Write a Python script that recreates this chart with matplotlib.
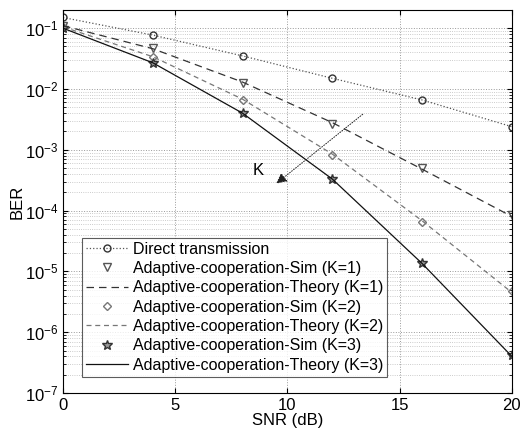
import matplotlib
matplotlib.use('Agg')
import matplotlib.pyplot as plt
import numpy as np

plt.rcParams['font.family'] = ['Liberation Sans', 'DejaVu Sans']
plt.rcParams['mathtext.default'] = 'regular'

# SNR points
snr = [0, 4, 8, 12, 16, 20]

# BER values
ber_direct = [0.15, 0.077, 0.035, 0.015, 0.0066, 0.0024]
ber_sim_k1 = [0.11, 0.047, 0.0126, 0.0027, 5.0e-4, 8.5e-5]
ber_th_k1 = [0.11, 0.046, 0.013, 0.0028, 4.8e-4, 8.0e-5]
ber_sim_k2 = [0.105, 0.033, 0.0066, 8.3e-4, 6.6e-5, 4.7e-6]
ber_th_k2 = [0.105, 0.034, 0.0068, 8.5e-4, 6.8e-5, 4.5e-6]
ber_sim_k3 = [0.1, 0.027, 0.0041, 3.3e-4, 1.35e-5, 4.2e-7]
ber_th_k3 = [0.1, 0.027, 0.0040, 3.3e-4, 1.35e-5, 4.0e-7]

labels = ['Direct transmission',
          'Adaptive-cooperation-Sim (K=1)',
          'Adaptive-cooperation-Theory (K=1)',
          'Adaptive-cooperation-Sim (K=2)',
          'Adaptive-cooperation-Theory (K=2)',
          'Adaptive-cooperation-Sim (K=3)',
          'Adaptive-cooperation-Theory (K=3)']

fig = plt.figure(figsize=(5.25, 4.3), dpi=100)
ax = fig.add_axes([0.12, 0.086, 0.855, 0.891])

ax.semilogy(snr, ber_direct, ':o', color='#555555', lw=0.9, ms=5,
            mfc='none', mec='#333333', label=labels[0])
ax.semilogy(snr, ber_sim_k1, 'v', color='#555555', ms=6, mfc='none',
            ls='none', label=labels[1])
ax.semilogy(snr, ber_th_k1, '--', color='#333333', lw=0.9, dashes=(6, 4),
            label=labels[2])
ax.semilogy(snr, ber_sim_k2, 'D', color='#777777', ms=4.5, mfc='none',
            ls='none', label=labels[3])
ax.semilogy(snr, ber_th_k2, '--', color='#777777', lw=0.9, dashes=(4, 3),
            label=labels[4])
ax.semilogy(snr, ber_sim_k3, '*', color='#333333', ms=7, mfc='#999999',
            ls='none', label=labels[5])
ax.semilogy(snr, ber_th_k3, '-', color='#111111', lw=0.9, label=labels[6])

ax.set_xlim(0, 20)
ax.set_ylim(1e-7, 0.2)
ax.set_xticks([0, 5, 10, 15, 20])
ax.set_yticks([1e-7, 1e-6, 1e-5, 1e-4, 1e-3, 1e-2, 1e-1])
ax.tick_params(direction='in', which='both', top=True, right=True,
               labelsize=12)
ax.grid(True, which='major', ls=':', color='#999999', lw=0.7)
ax.grid(True, which='minor', axis='y', ls=':', color='#bbbbbb', lw=0.6)
ax.set_xlabel('SNR (dB)', fontsize=12, labelpad=0)
ax.set_ylabel('BER', fontsize=12, labelpad=0)

ax.annotate('', xy=(9.4, 2.6e-4), xytext=(13.45, 4.1e-3),
            arrowprops=dict(arrowstyle='-|>', color='#222222', lw=0.7,
                            ls=':', mutation_scale=16))
ax.text(8.7, 4.6e-4, 'K', fontsize=12, ha='center', va='center')

leg = ax.legend(loc='lower left', bbox_to_anchor=(0.025, 0.022),
                fontsize=11.5, frameon=True, fancybox=False,
                edgecolor='#333333', handlelength=2.6, borderpad=0.25,
                labelspacing=0.27, handletextpad=0.3)
leg.get_frame().set_linewidth(0.8)

fig.savefig('out.png', dpi=100)
